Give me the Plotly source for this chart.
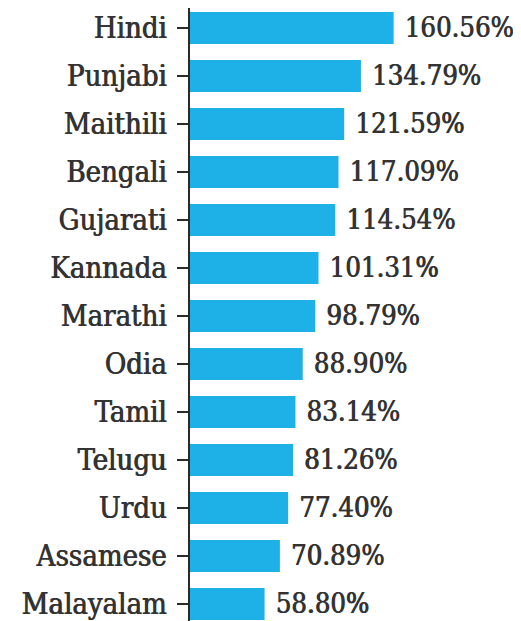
import plotly.graph_objects as go

languages = ["Hindi", "Punjabi", "Maithili", "Bengali", "Gujarati", "Kannada", "Marathi",
             "Odia", "Tamil", "Telugu", "Urdu", "Assamese", "Malayalam"]
growth_pct = [160.56, 134.79, 121.59, 117.09, 114.54, 101.31, 98.79,
              88.90, 83.14, 81.26, 77.40, 70.89, 58.80]
value_labels = [f"{v:.2f}%" for v in growth_pct]

FONT = "DejaVu Serif Condensed, Liberation Serif, serif"
THICKEN = "0.8px 0px 0px #333333"

fig = go.Figure(go.Bar(
    x=growth_pct,
    y=languages,
    orientation="h",
    marker=dict(color="#1DB1E7", line=dict(width=0)),
    text=[" " + t for t in value_labels],
    textposition="outside",
    cliponaxis=False,
    textfont=dict(family=FONT, size=28, color="#333333", shadow=THICKEN),
))

fig.update_layout(
    width=513, height=613,
    margin=dict(l=182, r=0, t=0, b=0, autoexpand=False),
    paper_bgcolor="white", plot_bgcolor="white",
    bargap=0.33,
    showlegend=False,
    xaxis=dict(range=[0, 261], visible=False, fixedrange=True, automargin=False),
    yaxis=dict(
        categoryorder="array", categoryarray=languages,
        range=[12.354, -0.417],
        automargin=False,
        showline=True, linecolor="#2a2a2a", linewidth=1.5,
        ticks="outside", ticklen=11, tickcolor="#2a2a2a", tickwidth=1.5,
        ticklabelstandoff=5,
        showgrid=False, zeroline=False,
        tickfont=dict(family=FONT, size=29, color="#333333", shadow=THICKEN),
    ),
)

fig.write_html("out.html")
